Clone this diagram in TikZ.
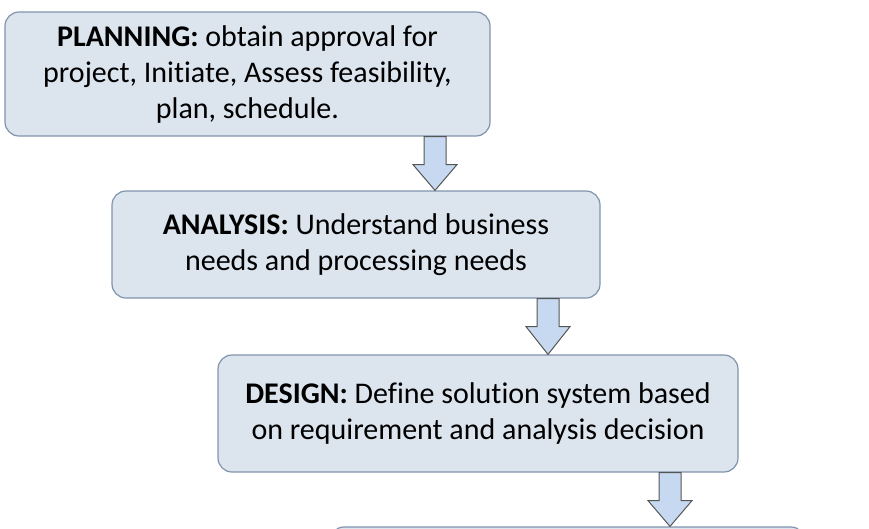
\documentclass[tikz,border=0pt]{standalone}
\usepackage{fontspec}
\setmainfont{Carlito}[Ligatures={NoCommon}]
\usetikzlibrary{calc}

\definecolor{boxfill}{RGB}{220,228,238}
\definecolor{boxline}{RGB}{128,148,172}
\definecolor{arrowfill}{RGB}{198,217,241}
\definecolor{arrowline}{RGB}{85,85,85}

\tikzset{
  stage/.style={draw=boxline, fill=boxfill, line width=1.2pt, rounded corners=14pt,
    align=center, inner sep=0pt, font=\fontsize{30}{36}\selectfont},
  blockarrow/.style={draw=arrowline, fill=arrowfill, line width=1pt, line join=miter}
}

\begin{document}
\begin{tikzpicture}[x=1pt,y=-1pt]
\useasboundingbox (0,0) rectangle (869,528);
\clip (0,0) rectangle (869,528);

% Stages
\node[stage, minimum width=485pt, minimum height=124pt] (plan) at (247.5,74)
  {\textbf{PLANNING:} obtain approval for\\project, Initiate, Assess feasibility,\\plan, schedule.};
\node[stage, minimum width=488pt, minimum height=107pt] (anal) at (356,244.5)
  {\textbf{ANALYSIS:} Understand business\\needs and processing needs};
\node[stage, minimum width=520pt, minimum height=117pt] (desg) at (478,413.5)
  {\textbf{DESIGN:} Define solution system based\\on requirement and analysis decision};
\node[stage, minimum width=475pt, minimum height=110pt] (impl) at (567.5,582) {}; % cut off below

% Block arrows between stages
\foreach \from/\to/\ax in {plan/anal/435, anal/desg/548, desg/impl/670} {
  \draw[blockarrow] ($(\ax,0 |- \from.south)+(-11,0)$) -- ++(22,0) -- ++(0,28) -- ++(11,0)
    -- (\ax,0 |- \to.north) -- ($(\ax,0 |- \from.south)+(-22,28)$) -- ++(11,0) -- cycle;
}
\end{tikzpicture}
\end{document}
